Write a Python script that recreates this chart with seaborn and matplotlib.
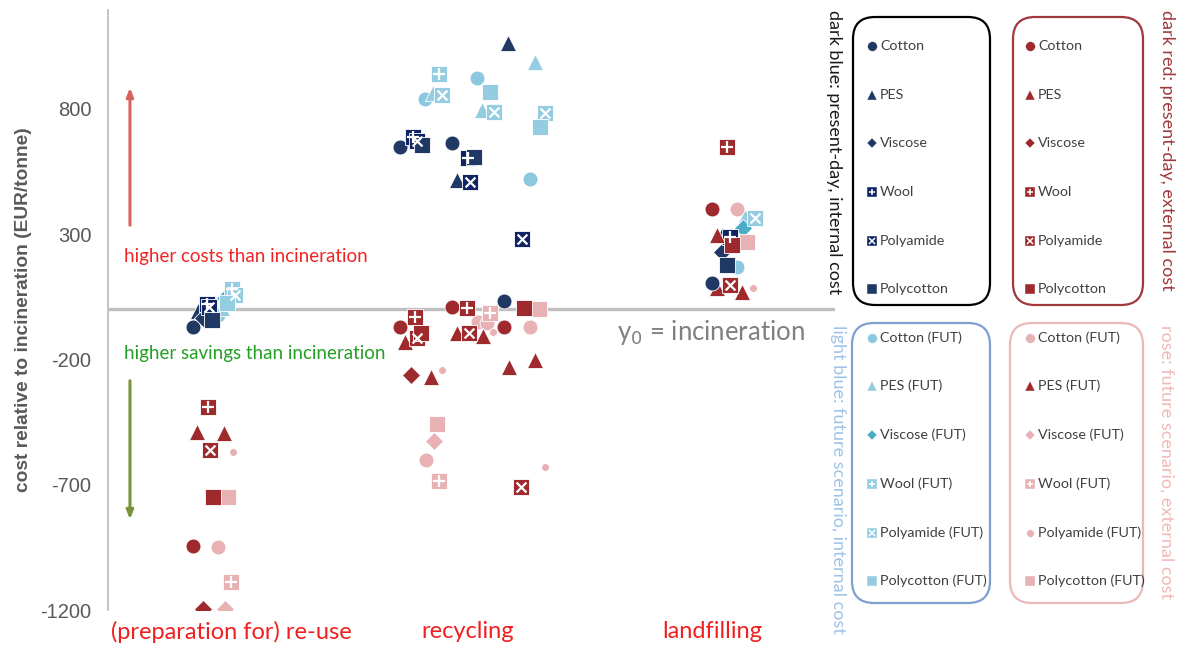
import matplotlib
matplotlib.use("Agg")
import matplotlib.pyplot as plt
from matplotlib.patches import FancyBboxPatch
import seaborn as sns
import pandas as pd

sns.set_style("white")
plt.rcParams["font.family"] = ["Liberation Sans", "DejaVu Sans"]

#%% data
routes = ["(preparation for) re-use", "recycling", "landfilling"]
fibres = ["Cotton", "PES", "Viscose", "Wool", "Polyamide", "Polycotton"]

# dark blue: present-day, internal cost
pi_route = [0]*6 + [1]*12 + [2]*5
pi_fibre = ["Cotton", "PES", "Viscose", "Wool", "Polyamide", "Polycotton",
            "Cotton", "Cotton", "Cotton", "PES", "PES", "Wool", "Wool",
            "Polyamide", "Polyamide", "Polyamide", "Polycotton", "Polycotton",
            "Cotton", "PES", "Viscose", "Wool", "Polycotton"]
pi_offset = [-0.127, -0.107, -0.086, -0.070, -0.061, -0.049,
             -0.279, -0.066, 0.148, 0.164, -0.045, -0.225, 0.0,
             -0.209, 0.008, 0.221, -0.189, 0.025,
             0.0, 0.041, 0.041, 0.074, 0.061]
pi_cost = [-70, -6, -34, 22, 8, -42,
           648, 664, 34, 1063, 517, 688, 604,
           672, 508, 280, 656, 608,
           105, 297, 229, 288, 177]

# light blue: future scenario, internal cost
fi_route = [0]*6 + [1]*12 + [2]*4
fi_fibre = ["Cotton", "PES", "Viscose", "Polycotton", "Wool", "Polyamide",
            "PES", "Wool", "Cotton", "Cotton", "PES", "Polyamide", "Polycotton",
            "PES", "Polyamide", "Polyamide", "Polycotton", "Cotton",
            "Cotton", "PES", "Viscose", "Polyamide"]
fi_offset = [-0.025, -0.008, 0.004, 0.012, 0.033, 0.045,
             0.275, -0.119, 0.037, -0.176, -0.143, -0.107, 0.090,
             0.057, 0.107, 0.316, 0.295, 0.254,
             0.102, 0.135, 0.127, 0.176]
fi_cost = [-22, 5, 45, 25, 80, 57,
           988, 940, 924, 840, 864, 856, 868,
           797, 789, 785, 729, 521,
           169, 369, 325, 365]

# dark red: present-day, external cost
pe_route = [0]*6 + [1]*14 + [2]*5
pe_fibre = ["Wool", "PES", "Polyamide", "Polycotton", "Cotton", "Viscose",
            "Cotton", "Wool", "Wool", "Cotton", "Polycotton", "PES", "Polyamide",
            "PES", "Polyamide", "Cotton", "Polycotton", "Viscose", "PES", "Polyamide",
            "Wool", "Cotton", "PES", "Polycotton", "Polyamide"]
pe_offset = [-0.066, -0.111, -0.057, -0.045, -0.127, -0.086,
             -0.066, -0.004, -0.217, -0.279, -0.193, -0.258, -0.209,
             -0.045, 0.004, 0.148, 0.230, -0.234, -0.152, 0.217,
             0.061, 0.0, 0.020, 0.082, 0.074]
pe_cost = [-390, -490, -562, -750, -945, -1195,
           10, 6, -30, -70, -94, -130, -114,
           -94, -94, -70, 6, -262, -270, -709,
           648, 400, 297, 257, 97]

# rose: future scenario, external cost
fe_route = [0]*6 + [1]*15 + [2]*5
fe_fibre = ["PES", "Polyamide", "Polycotton", "Cotton", "Wool", "Viscose",
            "Wool", "Cotton", "Cotton", "Polyamide", "Cotton", "Polycotton",
            "PES", "PES", "PES", "Polyamide", "Polycotton", "Viscose", "Cotton",
            "Wool", "Polyamide",
            "Cotton", "Polycotton", "PES", "PES", "Polyamide"]
fe_offset = [0.0, 0.037, 0.016, -0.025, 0.029, 0.004,
             0.090, 0.041, 0.078, 0.102, 0.254, 0.291,
             0.061, 0.168, 0.275, -0.107, -0.127, -0.139, -0.172,
             -0.119, 0.316,
             0.102, 0.143, 0.020, 0.123, 0.168]
fe_cost = [-493, -570, -750, -950, -1090, -1195,
           -14, -50, -54, -90, -70, 2,
           -106, -230, -202, -242, -458, -525, -601,
           -685, -629,
           400, 269, 85, 69, 85]

yticks = [-1200, -700, -200, 300, 800]

#%% styles
DARK_BLUE, NAVY = "#1F3864", "#0F2463"
LIGHT_BLUE, MID_BLUE = "#94CDE1", "#4BACC6"
DARK_RED, ROSE = "#9E2A2E", "#E8B2B5"
CALIBRI_LIKE = ["Lato", "DejaVu Sans"]

markers = {"Cotton": "o", "PES": "^", "Viscose": "D", "Wool": "s",
           "Polyamide": "s", "Polycotton": "s"}
sizes = {"Cotton": 115, "PES": 135, "Viscose": 85, "Wool": 125,
         "Polyamide": 125, "Polycotton": 125}
scen_col = {
    "pi": {f: DARK_BLUE for f in fibres} | {"Wool": NAVY, "Polyamide": NAVY},
    "fi": {f: LIGHT_BLUE for f in fibres} | {"Viscose": MID_BLUE, "Cotton": "#8CC8DE"},
    "pe": {f: DARK_RED for f in fibres},
    "fe": {f: ROSE for f in fibres} | {"PES": DARK_RED},
}

frames = {
    "pi": pd.DataFrame({"route": pi_route, "fibre": pi_fibre, "off": pi_offset, "cost": pi_cost}),
    "fi": pd.DataFrame({"route": fi_route, "fibre": fi_fibre, "off": fi_offset, "cost": fi_cost}),
    "pe": pd.DataFrame({"route": pe_route, "fibre": pe_fibre, "off": pe_offset, "cost": pe_cost}),
    "fe": pd.DataFrame({"route": fe_route, "fibre": fe_fibre, "off": fe_offset, "cost": fe_cost}),
}

#%% plot
fig = plt.figure(figsize=(11.78, 6.49), dpi=100)
ax = fig.add_axes([108/1178, 1 - 610/649, (835-108)/1178, 600/649])

for scen in ["fi", "fe", "pi", "pe"]:
    df = frames[scen]
    df["x"] = df["route"] + df["off"]
    for fib in fibres:
        sub = df[df["fibre"] == fib]
        if sub.empty:
            continue
        mk, s = markers[fib], sizes[fib]
        if scen == "fe" and fib == "Polyamide":
            mk, s = "o", 32
        sns.scatterplot(data=sub, x="x", y="cost", ax=ax, marker=mk, s=s,
                        color=scen_col[scen][fib], edgecolor="white",
                        linewidth=0.6, zorder=3, legend=False)
        if fib in ("Wool", "Polyamide") and mk == "s":
            sns.scatterplot(data=sub, x="x", y="cost", ax=ax,
                            marker="+" if fib == "Wool" else "x",
                            s=70 if fib == "Wool" else 50, color="white",
                            linewidth=1.6, zorder=4, legend=False)

ax.axhline(0, color="#BFBFBF", lw=2.4, zorder=1)
ax.set_xlim(-0.475, 2.504)
ax.set_ylim(-1200, 1195)
ax.set_yticks(yticks)
ax.set_yticklabels([str(t) for t in yticks], fontsize=14.5, color="#595959")
ax.set_xticks([0.03, 1, 2])
ax.set_xticklabels(routes, fontsize=17, color="#F02020", family=CALIBRI_LIKE)
ax.tick_params(axis="both", length=0)
ax.tick_params(axis="x", pad=8)
ax.tick_params(axis="y", pad=12)
ax.set_xlabel("")
ax.set_ylabel("cost relative to incineration (EUR/tonne)", fontsize=13.8,
              fontweight="bold", color="#595959", labelpad=6)
for side in ["top", "right", "bottom"]:
    ax.spines[side].set_visible(False)
ax.spines["left"].set_color("#BFBFBF")
ax.spines["left"].set_linewidth(1.3)

# arrows and notes
ax.annotate("", xy=(-0.385, 896), xytext=(-0.385, 325),
            arrowprops=dict(arrowstyle="-|>,head_length=0.5,head_width=0.2",
                            color="#D9625F", lw=2.2))
ax.annotate("", xy=(-0.385, -849), xytext=(-0.385, -274),
            arrowprops=dict(arrowstyle="-|>,head_length=0.5,head_width=0.2",
                            color="#77933C", lw=2.2))
ax.text(-0.41, 212, "higher costs than incineration", fontsize=13.5, color="#F02424",
        va="center", family=CALIBRI_LIKE)
ax.text(-0.41, -178, "higher savings than incineration", fontsize=13.5, color="#22A022",
        va="center", family=CALIBRI_LIKE)
ax.text(1.61, -92, r"y$_0$ = incineration", fontsize=18.5, color="#808080",
        va="center", family=CALIBRI_LIKE)

#%% legend boxes
lg = fig.add_axes([0, 0, 1, 1], zorder=5)
lg.set_xlim(0, 1178)
lg.set_ylim(649, 0)
lg.axis("off")
lg.patch.set_alpha(0)

boxes = [
    (853, 17, 137, 288, "black", 872, 880, [46, 95, 143, 192, 241, 289], "pi", ""),
    (1013, 17, 130, 288, "#A0393B", 1030, 1038, [46, 95, 143, 192, 241, 289], "pe", ""),
    (852, 323, 138, 280, "#7F9FD0", 872, 880, [338, 386, 435, 484, 533, 581], "fi", " (FUT)"),
    (1010, 323, 133, 280, "#EBB8B8", 1030, 1038, [338, 386, 435, 484, 533, 581], "fe", " (FUT)"),
]
for bx, by, bw, bh, ec, mx, tx, rows, scen, suffix in boxes:
    lg.add_patch(FancyBboxPatch((bx, by), bw, bh,
                                boxstyle="round,pad=0,rounding_size=22",
                                fc="none", ec=ec, lw=1.6))
    for fib, ry in zip(fibres, rows):
        mk, ms = markers[fib], 7
        if fib == "Viscose":
            ms = 5.5
        if scen == "fe" and fib == "Polyamide":
            mk, ms = "o", 5.5
        col = scen_col[scen][fib]
        lg.plot(mx, ry, marker=mk, ms=ms, color=col, mec="white", mew=0.3, ls="none")
        if fib in ("Wool", "Polyamide") and mk == "s":
            lg.plot(mx, ry, marker="+" if fib == "Wool" else "x", ms=5,
                    color="white", mew=1.1, ls="none")
        lg.text(tx, ry, fib + suffix, fontsize=10.3, color="#404040", va="center",
                family=CALIBRI_LIKE)

side_notes = [
    (834, 10, "dark blue: present-day, internal cost", "#1A1A1A"),
    (1167, 10, "dark red: present-day, external cost", "#A0393B"),
    (838, 325, "light blue: future scenario, internal cost", "#9DC3E6"),
    (1166, 325, "rose: future scenario, external cost", "#F0B8B8"),
]
for nx, ny, txt, col in side_notes:
    lg.text(nx, ny, txt, rotation=270, ha="center", va="top", fontsize=13,
            color=col, family=CALIBRI_LIKE)

fig.savefig("out.png", dpi=100)
